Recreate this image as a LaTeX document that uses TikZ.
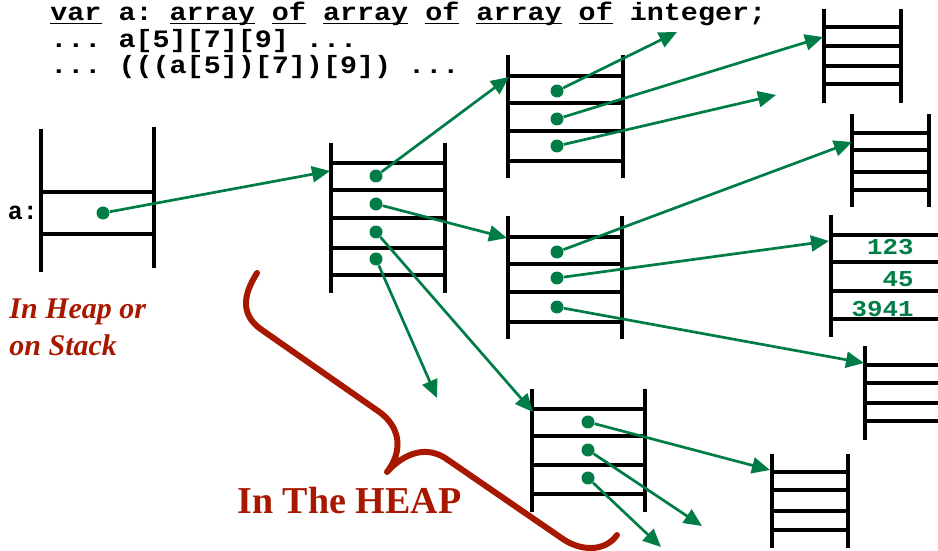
\documentclass[tikz,border=0pt]{standalone}
\usepackage{graphicx}
\usepackage{fontspec}
\setmainfont{Liberation Serif}
\setmonofont{Liberation Mono}
\usetikzlibrary{arrows.meta}
\definecolor{ptrgreen}{RGB}{0,125,70}
\definecolor{heapred}{RGB}{168,24,0}
% keyword with an underline that ignores descenders
\newcommand\kwd[1]{\underline{\smash{#1}}}
% slightly flattened typewriter line
\newcommand\squashtt[1]{\scalebox{1}[0.88]{#1}}

\begin{document}
\begin{tikzpicture}[x=0.5pt,y=-0.5pt,
  rail/.style={line width=2pt,black},
  ptr/.style={line width=1.35pt,ptrgreen,-{Triangle[length=9pt,width=8pt]}},
  dot/.style={circle,fill=ptrgreen,inner sep=0pt,minimum size=6.5pt},
  code/.style={font=\ttfamily\bfseries\fontsize{14.2}{17}\selectfont,anchor=base west,inner sep=0pt},
  lbl/.style={font=\ttfamily\bfseries\fontsize{12.5}{15}\selectfont,anchor=base west,inner sep=0pt},
  num/.style={font=\ttfamily\bfseries\fontsize{12.9}{15}\selectfont,text=ptrgreen,anchor=base east,inner sep=0pt},
  note/.style={font=\bfseries\itshape\fontsize{15}{18}\selectfont,text=heapred,anchor=base west,inner sep=0pt},
  heap/.style={font=\bfseries\fontsize{19}{22}\selectfont,text=heapred,anchor=base west,inner sep=0pt},
  brace/.style={line width=3pt,heapred,line cap=round,line join=round},
]
\useasboundingbox (0,0) rectangle (938,551);

% declaration and access expressions
\node[code] (decl) at (50,21) {\squashtt{\kwd{var} a: \kwd{array} \kwd{of} \kwd{array} \kwd{of} \kwd{array} \kwd{of} integer;}};
\node[code] (acc1) at (50,48) {\squashtt{... a[5][7][9] ...}};
\node[code] (acc2) at (50,74) {\squashtt{... (((a[5])[7])[9]) ...}};

% the variable a
\draw[rail] (41,129) -- (41,272) (154,127) -- (154,268);
\draw[rail] (41,192) -- (154,192) (41,234) -- (154,234);
\node[lbl] (alabel) at (7.5,220) {a:};
\node[dot] (s) at (103,213) {};

% first level array
\draw[rail] (331,143) -- (331,293) (445,143) -- (445,293);
\foreach \y in {163,190,218,248,275} \draw[rail] (331,\y) -- (445,\y);
\node[dot] (p1) at (376,176) {};
\node[dot] (p2) at (376,204) {};
\node[dot] (p3) at (376,232) {};
\node[dot] (p4) at (376,259) {};
\coordinate (t1) at (330,171);

% second level arrays
\draw[rail] (508,55) -- (508,178) (623,55) -- (623,178);
\foreach \y in {76,103,131,161} \draw[rail] (508,\y) -- (623,\y);
\node[dot] (a1) at (557,91) {};
\node[dot] (a2) at (557,119) {};
\node[dot] (a3) at (557,146) {};
\coordinate (tA) at (509,77);

\draw[rail] (508,216) -- (508,339) (622,216) -- (622,339);
\foreach \y in {237,264,292,322} \draw[rail] (508,\y) -- (622,\y);
\node[dot] (b1) at (557,252) {};
\node[dot] (b2) at (557,278) {};
\node[dot] (b3) at (557,307) {};
\coordinate (tB) at (507,238);

\draw[rail] (532,389) -- (532,512) (645,389) -- (645,512);
\foreach \y in {409,436,465,494} \draw[rail] (532,\y) -- (645,\y);
\node[dot] (c1) at (588,422) {};
\node[dot] (c2) at (588,450) {};
\node[dot] (c3) at (588,478) {};
\coordinate (tC) at (533,412);

% integer arrays
\draw[rail] (824,9) -- (824,103) (901,9) -- (901,103);
\foreach \y in {27,46,66,84} \draw[rail] (824,\y) -- (901,\y);
\coordinate (tD) at (823,37);

\draw[rail] (852,114) -- (852,207) (929,114) -- (929,207);
\foreach \y in {133,150,172,190} \draw[rail] (852,\y) -- (929,\y);
\coordinate (tE) at (852,142);

\draw[rail] (831,215) -- (831,337);
\foreach \y in {235,262,291,319} \draw[rail] (831,\y) -- (938,\y);
\coordinate (tF) at (829,241);
\node[num] (n1) at (914,255) {\squashtt{123}};
\node[num] (n2) at (914,286) {\squashtt{45}};
\node[num] (n3) at (914,316) {\squashtt{3941}};

\draw[rail] (865,346) -- (865,440);
\foreach \y in {365,383,403,421} \draw[rail] (865,\y) -- (938,\y);
\coordinate (tG) at (864,363);

\draw[rail] (772,454) -- (772,548) (848,454) -- (848,548);
\foreach \y in {472,490,511,530} \draw[rail] (772,\y) -- (848,\y);
\coordinate (tH) at (770,470);

% loose pointer ends
\coordinate (f1) at (437,398);
\coordinate (f2) at (677,32);
\coordinate (f3) at (776,95);
\coordinate (f4) at (702,526);
\coordinate (f5) at (661,547);

% pointers
\draw[ptr] (s) -- (t1);
\draw[ptr] (p1) -- (tA);
\draw[ptr] (p2) -- (tB);
\draw[ptr] (p3) -- (tC);
\draw[ptr] (p4) -- (f1);
\draw[ptr] (a1) -- (f2);
\draw[ptr] (a2) -- (tD);
\draw[ptr] (a3) -- (f3);
\draw[ptr] (b1) -- (tE);
\draw[ptr] (b2) -- (tF);
\draw[ptr] (b3) -- (tG);
\draw[ptr] (c1) -- (tH);
\draw[ptr] (c2) -- (f4);
\draw[ptr] (c3) -- (f5);

% annotations
\node[note] (stk1) at (9,318) {In Heap or};
\node[note] (stk2) at (9,355) {on Stack};
\draw[brace] (257,273) .. controls (243,295) and (240,315) .. (262,330)
  -- (378,411) .. controls (400,426) and (404,450) .. (387,472)
  .. controls (405,452) and (428,445) .. (448,460)
  -- (560,537) .. controls (580,552) and (605,552) .. (617,535);
\node[heap] (heaplbl) at (237,513) {In The HEAP};
\end{tikzpicture}
\end{document}
